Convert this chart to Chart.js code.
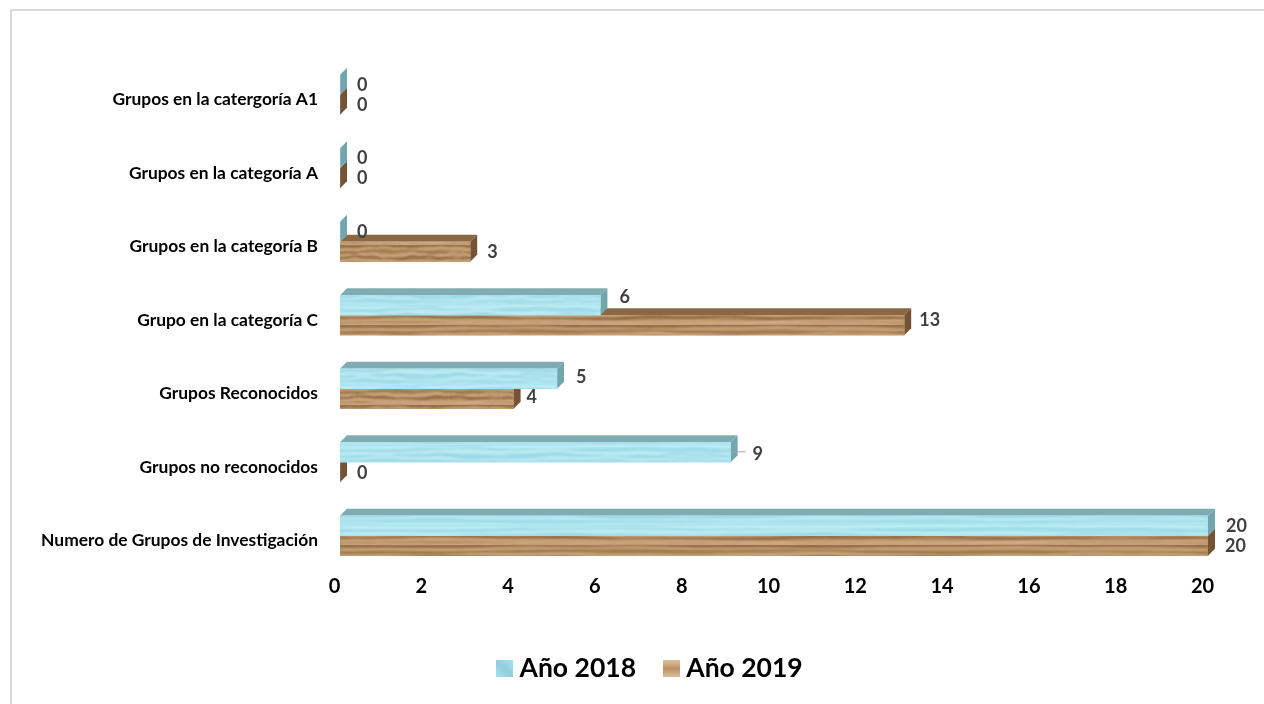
<!DOCTYPE html>
<html lang="es">
<head>
<meta charset="utf-8">
<title>Grupos de Investigación</title>
<script src="https://cdn.jsdelivr.net/npm/chart.js@4"></script>
<style>
html,body{margin:0;padding:0;background:#fff;overflow:hidden}
#wrap{position:absolute;left:0;top:0;width:1264px;height:704px}
</style>
</head>
<body>
<div id="wrap"><canvas id="c" width="1264" height="704"></canvas></div>
<script>
const categories = ["Grupos en la catergoría A1","Grupos en la categoría A","Grupos en la categoría B","Grupo en la categoría C","Grupos Reconocidos","Grupos no reconocidos","Numero de Grupos de Investigación"];
const series2018 = [0,0,0,6,5,9,20];
const series2019 = [0,0,3,13,4,0,20];
const xTicks = [0,2,4,6,8,10,12,14,16,18,20];
const seriesNames = ["Año 2018","Año 2019"];

const FONT = 'Lato, "Open Sans", sans-serif';
const DEPTH = 7;

// Decorative streak texture; the marks themselves come from the bar elements.
function texture(w, h, base, streaks) {
  const t = document.createElement('canvas');
  t.width = w; t.height = h;
  const g = t.getContext('2d');
  g.fillStyle = base; g.fillRect(0,0,w,h);
  g.filter = 'blur(0.8px)';
  streaks.forEach(s => {
    g.strokeStyle = s[0]; g.lineWidth = s[1];
    g.beginPath();
    for (let x = 0; x <= w; x += 4) {
      const a = (x / w) * Math.PI * 2;
      const y = s[2] + s[3] * Math.sin(a * s[4] + s[5]) + s[3] * 0.45 * Math.sin(a * (s[4] * 3 + 1) + s[5] * 2);
      x === 0 ? g.moveTo(x,y) : g.lineTo(x,y);
    }
    g.stroke();
  });
  return t;
}
const ctxMain = document.getElementById('c').getContext('2d');
const waterTex = texture(480, 20, '#a8e1ed', [
  ['#bfeef6',3,2,1,1,0],['#93d3df',1.2,5,1.5,2,1],['#c2eff6',2.5,8,1.5,1,2],
  ['#8ecfdb',1.2,11,1.5,3,.5],['#bdebf4',2.5,14,1.5,2,3],['#98d7e2',1.5,17,1,1,4],
  ['#c2eff6',1.5,19,.7,2,5]
]);
const woodTex = texture(480, 20, '#b38c62', [
  ['#7b5530',1.6,1,.7,1,0],['#cba57b',2.5,4,1,2,1],['#8a6338',1.2,7,1.2,1,2],
  ['#d2ae86',2.2,10,1,3,.5],['#6f4a26',1.3,13,1.2,2,3],['#cfa97f',2.4,16,1,1,4],
  ['#e0c6a6',1.2,19,.6,2,1]
]);
// one texture tile is stretched over the length of each bar
function stretched(tex, chart, value) {
  const p = chart.ctx.createPattern(tex,'repeat');
  const px = Math.max(value,1) * 43.4;
  p.setTransform(new DOMMatrix().translate(340,5).scale(px/tex.width,1));
  return p;
}

function swatch(c1, c2, diagonal) {
  const t = document.createElement('canvas');
  t.width = 17; t.height = 17;
  const g = t.getContext('2d');
  const lg = diagonal ? g.createLinearGradient(0,17,17,0) : g.createLinearGradient(0,0,0,17);
  lg.addColorStop(0,c1); lg.addColorStop(.5,c2); lg.addColorStop(1,c1);
  g.fillStyle = lg; g.fillRect(0,0,17,17);
  return t;
}
const swatches = [swatch('#a9e1ee','#8fcfdc',true), swatch('#e0c29e','#b98f62',false)];

const sideColors = ['#73a5ae','#755436'];
const topColors  = ['#7fabb3','#8a6844'];

const framePlugin = {
  id:'frame',
  afterLayout(chart){
    // the legend sits under the plot area, not under the whole canvas
    chart.legend.left += 49;
    chart.legend.right += 49;
  },
  beforeDraw(chart){
    const g = chart.ctx;
    g.save();
    g.strokeStyle = '#d9d9d9'; g.lineWidth = 2;
    g.beginPath();
    g.moveTo(11,704); g.lineTo(11,10); g.lineTo(1264,10);
    g.stroke();
    g.restore();
  }
};

// Extrusion of each bar: back faces drawn before the library's bars, from its elements.
const depthPlugin = {
  id:'depth',
  beforeDatasetsDraw(chart){
    const g = chart.ctx;
    [1,0].forEach(di => {
      const meta = chart.getDatasetMeta(di);
      meta.data.forEach(bar => {
        const p = bar.getProps(['x','y','base','height'],true);
        const top = p.y - p.height/2, bot = p.y + p.height/2;
        g.save();
        g.fillStyle = topColors[di];
        g.beginPath();
        g.moveTo(p.base,top); g.lineTo(p.base+DEPTH,top-DEPTH);
        g.lineTo(p.x+DEPTH,top-DEPTH); g.lineTo(p.x,top); g.closePath(); g.fill();
        g.fillStyle = sideColors[di];
        g.beginPath();
        g.moveTo(p.x,top); g.lineTo(p.x+DEPTH,top-DEPTH);
        g.lineTo(p.x+DEPTH,bot-DEPTH); g.lineTo(p.x,bot); g.closePath(); g.fill();
        g.restore();
      });
    });
  }
};

// label nudges [dx, dy] keyed "dataset:index"
const nudges = {'0:3':[2,-8],'1:3':[-2,-5],'0:4':[2,-2],'1:4':[-4,-2],'0:5':[5,2],'1:5':[0,1],'0:6':[1,0],'1:6':[0,0]};
const valueLabels = {
  id:'valueLabels',
  afterDatasetsDraw(chart){
    const g = chart.ctx;
    g.save();
    g.font = '700 18px ' + FONT;
    g.fillStyle = '#404040';
    g.textAlign = 'left'; g.textBaseline = 'middle';
    chart.data.datasets.forEach((ds,di) => {
      chart.getDatasetMeta(di).data.forEach((bar,i) => {
        const n = nudges[di+':'+i] || [0,0];
        g.fillText(String(ds.data[i]), bar.x + 17 + n[0], bar.y + n[1]);
      });
    });
    // leader line of the label for "Grupos no reconocidos"
    const b = chart.getDatasetMeta(0).data[5];
    g.strokeStyle = '#a6a6a6'; g.lineWidth = 1.2;
    g.beginPath(); g.moveTo(b.x,b.y+1); g.lineTo(b.x+5,b.y-0.5); g.lineTo(b.x+15,b.y-0.5); g.stroke();
    g.restore();
  }
};

new Chart(ctxMain, {
  type:'bar',
  data:{
    labels:categories,
    datasets:[
      {label:seriesNames[0],data:series2018,backgroundColor:c=>stretched(waterTex,c.chart,c.raw),barThickness:20,borderWidth:0},
      {label:seriesNames[1],data:series2019,backgroundColor:c=>stretched(woodTex,c.chart,c.raw),barThickness:20,borderWidth:0}
    ]
  },
  options:{
    indexAxis:'y',
    responsive:false,
    animation:false,
    layout:{padding:{left:0,right:56,top:58,bottom:12}},
    scales:{
      x:{
        min:0,max:20,
        grid:{display:false},
        border:{display:false},
        afterBuildTicks(s){ s.ticks = xTicks.map(v => ({value:v})); },
        afterFit(s){ s.height = 49; },
        ticks:{color:'#000',font:{family:FONT,size:20,weight:'700'},padding:-6,labelOffset:-5.5,maxRotation:0,autoSkip:false}
      },
      y:{
        grid:{display:false},
        border:{display:false},
        afterFit(s){ s.width = 340; },
        ticks:{color:'#000',font:{family:FONT,size:17.4,weight:'700'},padding:14,labelOffset:5,autoSkip:false}
      }
    },
    plugins:{
      tooltip:{enabled:false},
      legend:{
        position:'bottom',
        labels:{
          color:'#000',
          font:{family:FONT,size:26.5,weight:'700'},
          usePointStyle:true,pointStyleWidth:3,padding:34,
          generateLabels(chart){
            return chart.data.datasets.map((d,i)=>({text:d.label,pointStyle:swatches[i],fillStyle:'#fff',strokeStyle:'#fff',lineWidth:0,datasetIndex:i,fontColor:'#000'}));
          }
        }
      }
    }
  },
  plugins:[framePlugin,depthPlugin,valueLabels]
});
</script>
</body>
</html>
